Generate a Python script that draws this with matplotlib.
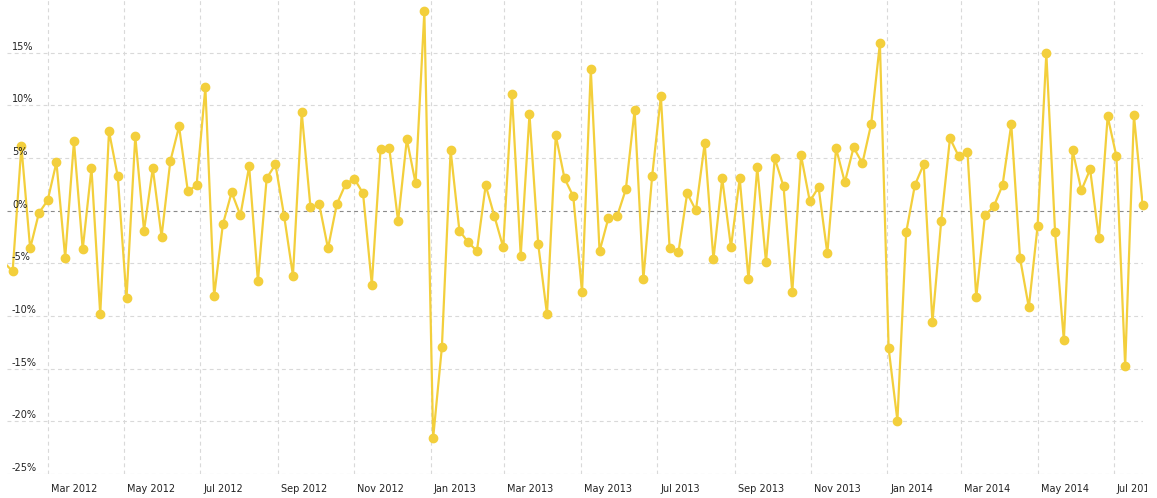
import matplotlib
matplotlib.use("Agg")
import matplotlib.pyplot as plt
import matplotlib.dates as mdates
from matplotlib.transforms import Bbox, TransformedBbox, offset_copy
import pandas as pd

# weekly % change (first value sits just off the left edge)
start_date = "2012-01-26"
values = [-4.9, -5.76, 6.1, -3.58, -0.22, 0.98, 4.59, -4.46, 6.58, -3.67, 4.02,
          -9.84, 7.53, 3.26, -8.32, 7.06, -1.9, 4.02, -2.47, 4.69, 8.0, 1.84,
          2.41, 11.71, -8.13, -1.3, 1.74, -0.44, 4.21, -6.71, 3.07, 4.4, -0.54,
          -6.17, 9.33, 0.31, 0.6, -3.58, 0.6, 2.5, 3.04, 1.65, -7.02, 5.82, 5.92,
          -1.01, 6.77, 2.6, 18.92, -21.6, -12.98, 5.73, -1.9, -3.0, -3.83, 2.41,
          -0.54, -3.48, 11.04, -4.27, 9.14, -3.2, -9.84, 7.15, 3.07, 1.36, -7.75,
          13.41, -3.86, -0.73, -0.54, 2.03, 9.52, -6.52, 3.26, 10.85, -3.58,
          -3.96, 1.65, 0.03, 6.39, -4.62, 3.07, -3.48, 3.07, -6.52, 4.11, -4.9,
          4.97, 2.31, -7.75, 5.25, 0.89, 2.22, -4.05, 5.92, 2.69, 6.01, 4.49, 8.2,
          15.88, -13.07, -19.93, -2.06, 2.44, 4.4, -10.6, -1.01, 6.87, 5.16, 5.54,
          -8.23, -0.44, 0.41, 2.41, 8.2, -4.52, -9.18, -1.49, 14.94, -2.06,
          -12.31, 5.73, 1.93, 3.92, -2.63, 8.95, 5.16, -14.78, 9.05, 0.51]

month_ticks = ["2012-03-01", "2012-05-01", "2012-07-01", "2012-09-01", "2012-11-01",
               "2013-01-01", "2013-03-01", "2013-05-01", "2013-07-01", "2013-09-01",
               "2013-11-01", "2014-01-01", "2014-03-01", "2014-05-01", "2014-07-01"]
month_labels = ["Mar 2012", "May 2012", "Jul 2012", "Sep 2012", "Nov 2012",
                "Jan 2013", "Mar 2013", "May 2013", "Jul 2013", "Sep 2013",
                "Nov 2013", "Jan 2014", "Mar 2014", "May 2014", "Jul 2014"]
y_ticks = [-25, -20, -15, -10, -5, 0, 5, 10, 15]
y_labels = ["-25%", "-20%", "-15%", "-10%", "-5%", "0%", "5%", "10%", "15%"]

dates = pd.date_range(start_date, periods=len(values), freq="7D")
ticks = pd.to_datetime(month_ticks)

W, H = 1157, 498
fig = plt.figure(figsize=(W / 100, H / 100), dpi=100)
ax = fig.add_axes([7 / W, 24 / H, (1143 - 7) / W, 474 / H])

yellow = "#F3CF3C"
grid_c = "#d9d9d9"
txt_c = "#222222"

ax.plot(dates, values, color=yellow, lw=1.6, zorder=3)
ax.plot(dates[1:], values[1:], ls="none", marker="o", ms=6, color=yellow,
        zorder=4, clip_on=False)

ax.set_xlim(dates[1] - pd.Timedelta(days=4.5), dates[-1] + pd.Timedelta(hours=6))
ax.set_ylim(-25, 20)

for t in ticks:
    ax.axvline(t, color=grid_c, lw=0.8, dashes=(3.5, 3), zorder=1)
for yv in y_ticks:
    if yv == 0:
        ax.axhline(0, color="#8a8a8a", lw=0.8, dashes=(3.5, 3), zorder=2)
    else:
        ax.axhline(yv, color=grid_c, lw=0.8, dashes=(3.5, 3), zorder=1)

ax.set_xticks([])
ax.set_yticks([])
for s in ax.spines.values():
    s.set_visible(False)

# y labels sit inside the plot, just above their gridline
ytr = offset_copy(ax.get_yaxis_transform(), fig=fig, x=5, y=1, units="dots")
for yv, lab in zip(y_ticks, y_labels):
    ax.text(0, yv, lab, transform=ytr, ha="left", va="bottom",
            fontsize=7, color=txt_c, zorder=5)

# x labels start just right of their gridline, clipped at the right edge
xtr = offset_copy(ax.get_xaxis_transform(), fig=fig, x=3, y=0, units="dots")
clip = TransformedBbox(Bbox([[0, 0], [1147 / W, 1]]), fig.transFigure)
for t, lab in zip(ticks, month_labels):
    tx = ax.text(mdates.date2num(t), -15 / 474, lab, transform=xtr, ha="left",
                 va="center", fontsize=7, color=txt_c, clip_on=True)
    tx.set_clip_box(clip)

fig.savefig("out.png", dpi=100)
